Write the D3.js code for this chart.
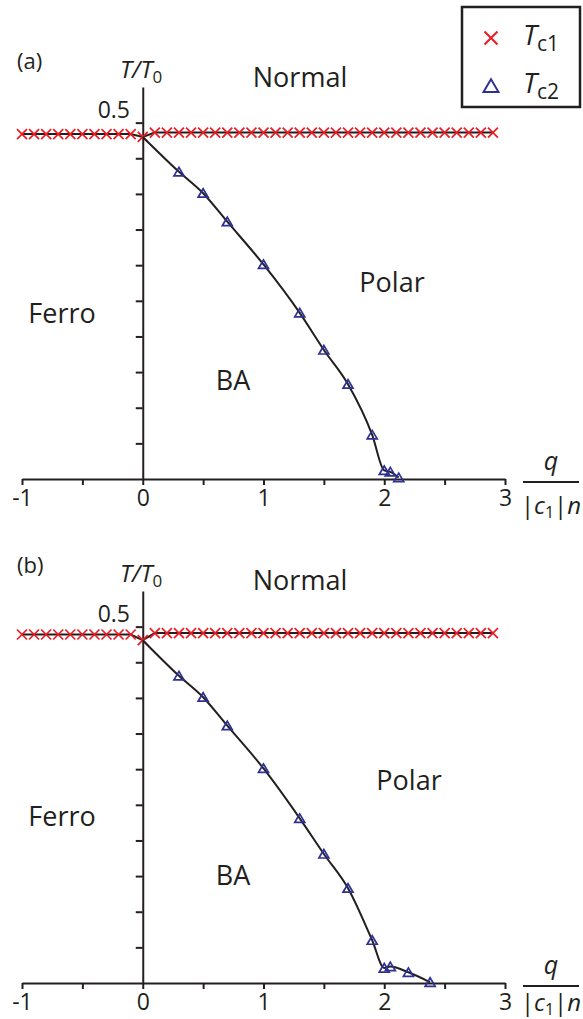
<!DOCTYPE html>
<html>
<head>
<meta charset="utf-8">
<script src="https://cdn.jsdelivr.net/npm/d3@7"></script>
<style>
  body { margin: 0; background: #fff; }
  text { font-family: "Open Sans", sans-serif; fill: #231f20; }
</style>
</head>
<body>
<div id="chart"></div>
<script>
// Tc1 (red crosses), same x grid in both panels
var tc1X = [-1, -0.9, -0.8, -0.7, -0.6, -0.5, -0.4, -0.3, -0.2, -0.1,
            0, 0.1, 0.2, 0.3, 0.4, 0.5, 0.6, 0.7, 0.8, 0.9,
            1, 1.1, 1.2, 1.3, 1.4, 1.5, 1.6, 1.7, 1.8, 1.9,
            2, 2.1, 2.2, 2.3, 2.4, 2.5, 2.6, 2.7, 2.8, 2.9];
var tc1A = [0.484, 0.484, 0.484, 0.484, 0.484, 0.484, 0.484, 0.484, 0.484, 0.484,
            0.480, 0.486, 0.486, 0.486, 0.486, 0.486, 0.486, 0.486, 0.486, 0.486,
            0.486, 0.486, 0.486, 0.486, 0.486, 0.486, 0.486, 0.486, 0.486, 0.486,
            0.486, 0.486, 0.486, 0.486, 0.486, 0.486, 0.486, 0.486, 0.486, 0.486];
var tc1B = [0.489, 0.489, 0.489, 0.489, 0.489, 0.489, 0.489, 0.489, 0.489, 0.489,
            0.481, 0.491, 0.491, 0.491, 0.491, 0.491, 0.491, 0.491, 0.491, 0.491,
            0.491, 0.491, 0.491, 0.491, 0.491, 0.491, 0.491, 0.491, 0.491, 0.491,
            0.491, 0.491, 0.491, 0.491, 0.491, 0.491, 0.491, 0.491, 0.491, 0.491];

// Tc2 (blue triangles)
var tc2XA = [0.3, 0.5, 0.7, 1.0, 1.3, 1.5, 1.7, 1.9, 2.0, 2.05, 2.12];
var tc2A  = [0.431, 0.401, 0.361, 0.301, 0.233, 0.181, 0.133, 0.062, 0.012, 0.010, 0.002];
var tc2XB = [0.3, 0.5, 0.7, 1.0, 1.3, 1.5, 1.7, 1.9, 2.0, 2.05, 2.2, 2.38];
var tc2B  = [0.431, 0.401, 0.361, 0.301, 0.231, 0.181, 0.133, 0.060, 0.021, 0.023, 0.015, 0.001];

var xTicks = [-1, -0.5, 0, 0.5, 1, 1.5, 2, 2.5, 3];
var yTicks = [0.05, 0.1, 0.15, 0.2, 0.25, 0.3, 0.35, 0.4, 0.45, 0.5];

var red = "#ed1c24", blue = "#2e3192", ink = "#231f20";

var svg = d3.select("#chart").append("svg")
  .attr("width", 583)
  .attr("height", 1019);

var x = d3.scaleLinear().domain([-1, 3]).range([22, 505]);

var crossPath = "M-5,-5L5,5M-5,5L5,-5";
var triPath = "M0,-4.5L5,4L-5,4Z";

var drawPanel = function(top, tag, c1, t2x, t2, lab, denY) {
  var y = d3.scaleLinear().domain([0, 0.55]).range([479 + top, 87 + top]);
  var g = svg.append("g");

  // axes
  var xa = g.append("g")
    .attr("transform", "translate(0," + y(0) + ")")
    .call(d3.axisBottom(x).tickValues(xTicks).tickSize(6).tickSizeOuter(0).tickPadding(5)
      .tickFormat(function(d) { return d % 1 === 0 ? String(d) : ""; }));
  g.append("g")
    .attr("transform", "translate(" + x(0) + ",0)")
    .call(d3.axisLeft(y).tickValues(yTicks).tickSize(7).tickSizeOuter(0).tickFormat(""));
  g.selectAll(".domain, .tick line").attr("stroke", ink).attr("stroke-width", 2);
  xa.selectAll("text").style("font-size", "23px").attr("fill", ink);

  g.append("text").attr("x", 130).attr("y", y(0.5) - 5)
    .attr("text-anchor", "end").style("font-size", "23px").text("0.5");

  // Tc1 line + crosses
  var pts1 = tc1X.map(function(d, i) { return [d, c1[i]]; });
  g.append("path")
    .datum(pts1)
    .attr("fill", "none")
    .attr("stroke", ink)
    .attr("stroke-width", 2)
    .attr("d", d3.line().x(function(d) { return x(d[0]); }).y(function(d) { return y(d[1]); }));
  g.selectAll(".c1").data(pts1).enter().append("path")
    .attr("transform", function(d) { return "translate(" + x(d[0]) + "," + y(d[1]) + ")"; })
    .attr("d", crossPath)
    .attr("fill", "none")
    .attr("stroke", red)
    .attr("stroke-width", 1.7);

  // Tc2 line starts from the Tc1 point at q = 0
  var pts2 = t2x.map(function(d, i) { return [d, t2[i]]; });
  g.append("path")
    .datum([[0, c1[10]]].concat(pts2))
    .attr("fill", "none")
    .attr("stroke", ink)
    .attr("stroke-width", 2)
    .attr("d", d3.line().curve(d3.curveMonotoneX)
      .x(function(d) { return x(d[0]); }).y(function(d) { return y(d[1]); }));
  g.selectAll(".c2").data(pts2).enter().append("path")
    .attr("transform", function(d) { return "translate(" + x(d[0]) + "," + y(d[1]) + ")"; })
    .attr("d", triPath)
    .attr("fill", "none")
    .attr("stroke", blue)
    .attr("stroke-width", 1.7);

  // labels
  g.append("text").attr("x", 17).attr("y", 69 + top).style("font-size", "22px").text(tag);
  var yl = g.append("text").attr("x", 120).attr("y", 78 + top).style("font-size", "24px");
  yl.append("tspan").style("font-style", "italic").text("T/T");
  yl.append("tspan").attr("dy", 5).style("font-size", "17px").text("0");

  lab.forEach(function(l) {
    g.append("text").attr("x", l[1]).attr("y", l[2] + top)
      .attr("text-anchor", "middle").style("font-size", "27px").text(l[0]);
  });

  // q / |c1| n
  g.append("text").attr("x", 551).attr("y", 470 + top).attr("text-anchor", "middle")
    .style("font-size", "25px").style("font-style", "italic").text("q");
  g.append("line").attr("x1", 523).attr("x2", 579).attr("y1", 482 + top).attr("y2", 482 + top)
    .attr("stroke", ink).attr("stroke-width", 2);
  var den = g.append("text").attr("x", 551).attr("y", denY).attr("text-anchor", "middle")
    .style("font-size", "24px");
  den.append("tspan").text("|");
  den.append("tspan").style("font-style", "italic").text("c");
  den.append("tspan").attr("dy", 4).style("font-size", "16px").text("1");
  den.append("tspan").attr("dy", -4).text("|");
  den.append("tspan").style("font-style", "italic").text("n");
};

drawPanel(0, "(a)", tc1A, tc2XA, tc2A,
  [["Normal", 300, 87], ["Polar", 392, 292], ["Ferro", 62, 323], ["BA", 233, 390]], 514);
drawPanel(504, "(b)", tc1B, tc2XB, tc2B,
  [["Normal", 300, 86], ["Polar", 409, 286], ["Ferro", 62, 322], ["BA", 233, 381]], 1011);

// legend
var lg = svg.append("g");
lg.append("rect").attr("x", 462).attr("y", 7).attr("width", 118).attr("height", 100)
  .attr("fill", "#fff").attr("stroke", ink).attr("stroke-width", 2.5);
lg.append("path").attr("transform", "translate(491,38) scale(1.3)").attr("d", crossPath)
  .attr("fill", "none").attr("stroke", red).attr("stroke-width", 1.6);
lg.append("path").attr("transform", "translate(491,86) scale(1.5)").attr("d", triPath)
  .attr("fill", "none").attr("stroke", blue).attr("stroke-width", 1.3);
[["c1", 45], ["c2", 93]].forEach(function(s) {
  var t = lg.append("text").attr("x", 523).attr("y", s[1]).style("font-size", "28px");
  t.append("tspan").style("font-style", "italic").text("T");
  t.append("tspan").attr("dy", 6).style("font-size", "21px").text(s[0]);
});
</script>
</body>
</html>
